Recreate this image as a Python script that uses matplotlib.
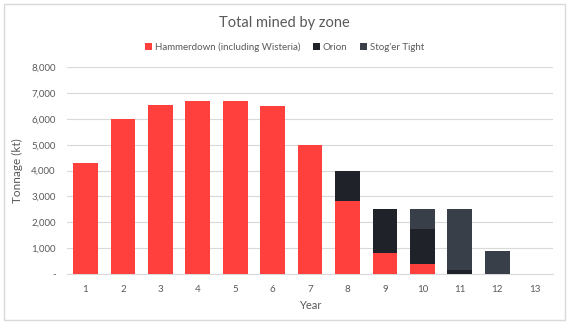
import matplotlib.pyplot as plt
import matplotlib.ticker as mticker
from matplotlib.patches import Rectangle
import numpy as np

# dados
anos = [1, 2, 3, 4, 5, 6, 7, 8, 9, 10, 11, 12, 13]
hammerdown = [4300, 6000, 6550, 6700, 6700, 6500, 5000, 2840, 800, 390, 0, 0, 0]
orion = [0, 0, 0, 0, 0, 0, 0, 1160, 1700, 1360, 170, 0, 0]
stoger = [0, 0, 0, 0, 0, 0, 0, 0, 0, 750, 2330, 900, 0]

cor_hammer = '#FF403D'
cor_orion = '#1F2329'
cor_stoger = '#383F48'
cinza = '#595959'

plt.rcParams['font.family'] = ['Lato', 'DejaVu Sans']

fig = plt.figure(figsize=(5.71, 3.26), dpi=100)
ax = fig.add_axes([0.117, 0.1595, 0.852, 0.634])

# moldura externa
fig.patches.append(Rectangle((4 / 571, 1 - 320 / 326), 561 / 571, 316 / 326,
                             transform=fig.transFigure, fill=False,
                             edgecolor='#D9D9D9', linewidth=1))

x = np.array(anos)
h = np.array(hammerdown)
o = np.array(orion)
s = np.array(stoger)
largura = 0.66
ax.bar(x, h, largura, color=cor_hammer, label='Hammerdown (including Wisteria)', zorder=3)
ax.bar(x, o, largura, bottom=h, color=cor_orion, label='Orion', zorder=3)
ax.bar(x, s, largura, bottom=h + o, color=cor_stoger, label="Stog'er Tight", zorder=3)

ax.set_xlim(0.5, 13.5)
ax.set_ylim(0, 8000)
ax.set_xticks(anos)
ax.set_yticks(range(0, 8001, 1000))
ax.yaxis.set_major_formatter(mticker.FuncFormatter(lambda v, p: '-' if v == 0 else f'{int(v):,}'))
ax.grid(axis='y', color='#D9D9D9', linewidth=0.8, zorder=0)
for lado in ['top', 'right', 'left']:
    ax.spines[lado].set_visible(False)
ax.spines['bottom'].set_color('#D9D9D9')
ax.tick_params(length=0, labelsize=7, labelcolor=cinza, pad=8)

ax.set_xlabel('Year', fontsize=8, color=cinza, labelpad=4)
ax.set_ylabel('Tonnage (kt)', fontsize=8.5, color=cinza, labelpad=6)

fig.text(0.498, 1 - 22.5 / 326, 'Total mined by zone', ha='center', va='center',
         fontsize=10.5, color=cinza)
fig.legend(loc='center', bbox_to_anchor=(0.498, 1 - 47 / 326), ncol=3, frameon=False,
           fontsize=7, labelcolor=cinza, handlelength=0.7, handleheight=0.7,
           handletextpad=0.3, columnspacing=1.3)

fig.savefig('out.png', dpi=100)
